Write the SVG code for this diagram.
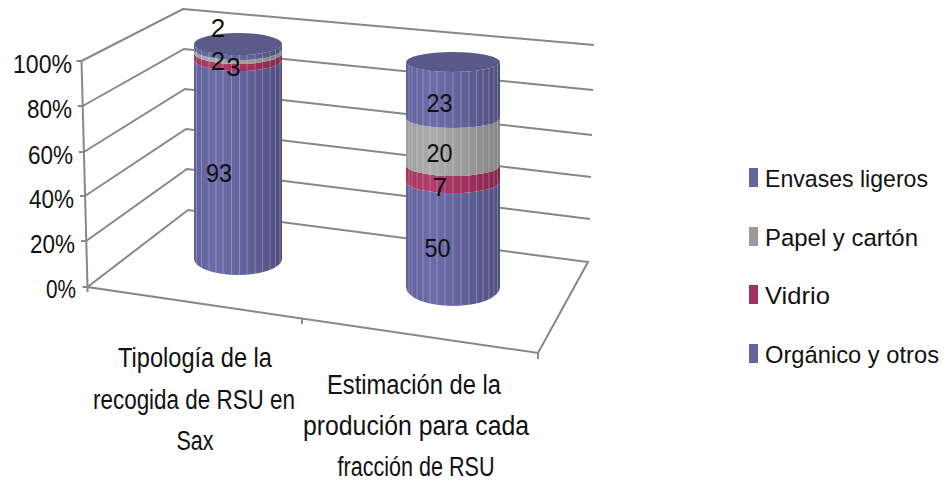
<svg xmlns="http://www.w3.org/2000/svg" width="951" height="486" viewBox="0 0 951 486">
<style>
.g{fill:none;stroke:#878787;stroke-width:2;stroke-linejoin:miter}
.t{font-family:"Liberation Sans",Arial,sans-serif;fill:#111}
.tick{font-size:25px;text-anchor:end}
.cat{font-size:27px;text-anchor:middle}
.dl{font-size:26px;text-anchor:middle}
.lg{font-size:24.5px}
.st{stroke:#ffffff;stroke-opacity:0.26;stroke-width:1}
</style>
<defs>
<linearGradient id="pu" x1="0" y1="0" x2="1" y2="0">
<stop offset="0" stop-color="#60609a"/><stop offset="0.25" stop-color="#6d6daa"/><stop offset="0.6" stop-color="#62629b"/><stop offset="1" stop-color="#4e4e7e"/>
</linearGradient>
<linearGradient id="gr" x1="0" y1="0" x2="1" y2="0">
<stop offset="0" stop-color="#9e9e9e"/><stop offset="0.25" stop-color="#ababab"/><stop offset="0.6" stop-color="#9c9c9c"/><stop offset="1" stop-color="#838383"/>
</linearGradient>
<linearGradient id="mg" x1="0" y1="0" x2="1" y2="0">
<stop offset="0" stop-color="#a3335f"/><stop offset="0.25" stop-color="#b23e6d"/><stop offset="0.6" stop-color="#a2325f"/><stop offset="1" stop-color="#862650"/>
</linearGradient>
<clipPath id="c1"><path d="M194,44 L194,259 A44,16 0 0 0 282,259 L282,44 Z"/></clipPath>
<clipPath id="c2"><path d="M406,62 L406,287 A47,19 0 0 0 500,287 L500,62 Z"/></clipPath>
</defs>

<g id="grid">
<polyline class="g" points="81.5,61 183,9 594,45"/>
<polyline class="g" points="82.7,106 184,49 593,90"/>
<polyline class="g" points="83.8,152 185,89 592,135"/>
<polyline class="g" points="85,196 186,129 591,177"/>
<polyline class="g" points="86.2,241 187,169 590,219"/>
<polygon class="g" points="87.5,287 188,210 588,262 538,353"/>
<line class="g" x1="81.5" y1="61" x2="87.5" y2="287"/>
<path class="g" d="M76.5,61H81.5M77.7,106H82.7M78.8,152H83.8M80,196H85M81.2,241H86.2M82.5,287H87.5M87.5,287V292M302,318.5V324M538,353V359"/>
</g>

<g id="cylinder-sax">
<path fill="url(#pu)" d="M194,60 A44,11 0 0 0 282,60 L282,259 A44,16 0 0 1 194,259 Z"/>
<path fill="url(#mg)" d="M194,53 A44,11 0 0 0 282,53 L282,60 A44,11 0 0 1 194,60 Z"/>
<path fill="url(#gr)" d="M194,49 A44,11 0 0 0 282,49 L282,53 A44,11 0 0 1 194,53 Z"/>
<path fill="url(#pu)" d="M194,44 A44,11 0 0 0 282,44 L282,49 A44,11 0 0 1 194,49 Z"/>
<g clip-path="url(#c1)" class="st">
<path d="M196.5,40V280M201.5,40V280M209,40V280M216,40V280M223,40V280M231.5,40V280M239.5,40V280M247,40V280M255,40V280M262.5,40V280M270,40V280M275.5,40V280M280,40V280"/>
</g>
<ellipse cx="238" cy="44" rx="44" ry="11" fill="#5a5a8b"/>
</g>

<g id="cylinder-estimacion">
<path fill="url(#pu)" d="M406,182 A47,11 0 0 0 500,182 L500,287 A47,19 0 0 1 406,287 Z"/>
<path fill="url(#mg)" d="M406,165 A47,11 0 0 0 500,165 L500,182 A47,11 0 0 1 406,182 Z"/>
<path fill="url(#gr)" d="M406,118 A47,10 0 0 0 500,118 L500,165 A47,11 0 0 1 406,165 Z"/>
<path fill="url(#pu)" d="M406,62 A47,10 0 0 0 500,62 L500,118 A47,10 0 0 1 406,118 Z"/>
<g clip-path="url(#c2)" class="st">
<path d="M409,55V310M412,55V310M417,55V310M423,55V310M430,55V310M437,55V310M445,55V310M453,55V310M461,55V310M469,55V310M476.5,55V310M483,55V310M489,55V310M494,55V310M497.5,55V310"/>
</g>
<ellipse cx="453" cy="62" rx="47" ry="10" fill="#59598a"/>
</g>

<g id="data-labels" class="t dl">
<text x="218" y="37">2</text>
<text x="218" y="70">2</text>
<text x="233.5" y="76">3</text>
<text x="219" y="182" textLength="26" lengthAdjust="spacingAndGlyphs">93</text>
<text x="439.5" y="112" textLength="26" lengthAdjust="spacingAndGlyphs">23</text>
<text x="439.5" y="162" textLength="26" lengthAdjust="spacingAndGlyphs">20</text>
<text x="440" y="196">7</text>
<text x="437.5" y="257" textLength="26" lengthAdjust="spacingAndGlyphs">50</text>
</g>

<g id="value-axis" class="t tick">
<text x="72" y="73" textLength="59" lengthAdjust="spacingAndGlyphs">100%</text>
<text x="72" y="118" textLength="45" lengthAdjust="spacingAndGlyphs">80%</text>
<text x="73" y="164" textLength="45" lengthAdjust="spacingAndGlyphs">60%</text>
<text x="74" y="208" textLength="45" lengthAdjust="spacingAndGlyphs">40%</text>
<text x="75" y="253" textLength="45" lengthAdjust="spacingAndGlyphs">20%</text>
<text x="76" y="298" textLength="30" lengthAdjust="spacingAndGlyphs">0%</text>
</g>

<g id="category-axis" class="t cat">
<text x="195" y="367" textLength="154" lengthAdjust="spacingAndGlyphs">Tipología de la</text>
<text x="194" y="409" textLength="202" lengthAdjust="spacingAndGlyphs">recogida de RSU en</text>
<text x="195" y="450" textLength="37" lengthAdjust="spacingAndGlyphs">Sax</text>
<text x="414" y="394" textLength="174" lengthAdjust="spacingAndGlyphs">Estimación de la</text>
<text x="416" y="435" textLength="226" lengthAdjust="spacingAndGlyphs">produción para cada</text>
<text x="416" y="476" textLength="157" lengthAdjust="spacingAndGlyphs">fracción de RSU</text>
</g>

<g id="legend">
<rect x="749" y="168" width="9" height="19" fill="#65659c"/>
<rect x="749" y="227" width="9" height="19" fill="#9a9a9a"/>
<rect x="749" y="285" width="9" height="19" fill="#a0305f"/>
<rect x="749" y="344" width="9" height="19" fill="#65659c"/>
<g class="t lg">
<text x="765" y="187" textLength="163" lengthAdjust="spacingAndGlyphs">Envases ligeros</text>
<text x="765" y="246" textLength="153" lengthAdjust="spacingAndGlyphs">Papel y cartón</text>
<text x="765" y="304" textLength="65" lengthAdjust="spacingAndGlyphs">Vidrio</text>
<text x="765" y="363" textLength="174" lengthAdjust="spacingAndGlyphs">Orgánico y otros</text>
</g>
</g>
</svg>
